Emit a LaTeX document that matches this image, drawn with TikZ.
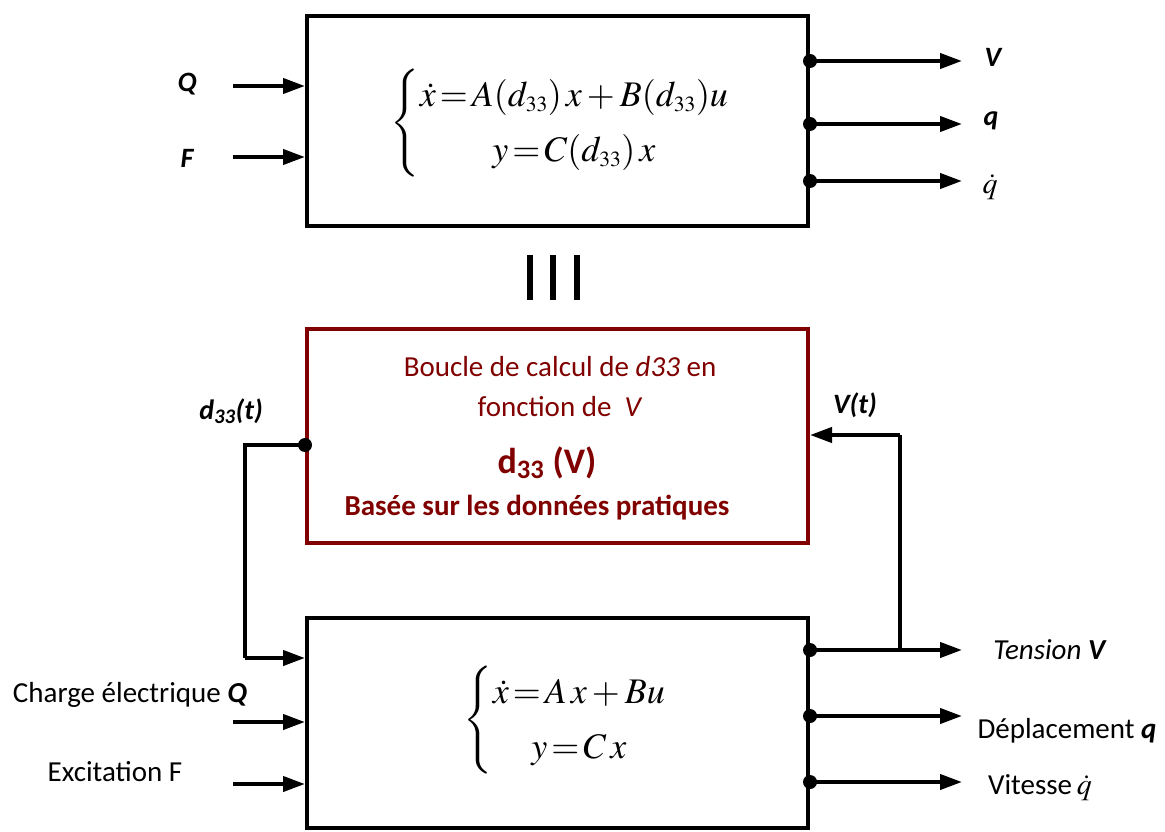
\documentclass[tikz,border=0pt]{standalone}
\usepackage{mathptmx}
\usepackage[no-math]{fontspec}
\setmainfont{Carlito}
\usetikzlibrary{arrows.meta}
\definecolor{boxred}{RGB}{128,0,0}
\tikzset{
  blk/.style={draw=black, line width=4pt, minimum width=501pt, minimum height=210pt, inner sep=0pt},
  redblk/.style={draw=boxred, line width=4pt, minimum width=501pt, minimum height=214pt, inner sep=0pt},
  arr/.style={line width=4pt, -{Triangle[length=22pt,width=15pt]}},
  wire/.style={line width=4pt},
  dot/.style={circle, fill=black, inner sep=0pt, minimum size=14pt},
  lbl/.style={font=\fontsize{28}{32}\selectfont\bfseries\itshape, inner sep=0pt},
  txt/.style={font=\fontsize{29}{34}\selectfont, inner sep=0pt},
  rtxt/.style={font=\fontsize{29}{34}\selectfont, text=boxred, inner sep=0pt},
  eq/.style={font=\fontsize{36}{44}\selectfont, inner sep=0pt},
  bar/.style={line width=6.5pt},
}
\begin{document}
\begin{tikzpicture}[x=1pt,y=-1pt]
\useasboundingbox (0,0) rectangle (1165,832);

% ---------- top block ----------
\node[blk] (top) at (557.5,121) {};
\node[eq] (topeq) at (560,123) {\renewcommand{\arraystretch}{1.25}$\left\{\begin{array}{@{}c@{}}\dot{x}\!=\!A(d_{\scriptscriptstyle 33})\,x+B(d_{\scriptscriptstyle 33})u\\ y\!=\!C(d_{\scriptscriptstyle 33})\,x\end{array}\right.$};

\coordinate (tq) at (233,86);
\coordinate (tf) at (233,157);
\draw[arr] (tq) -- (tq -| top.west);
\draw[arr] (tf) -- (tf -| top.west);
\node[lbl] (lq) at (187,84) {Q};
\node[lbl] (lf) at (187,158) {F};

\node[dot] (tdv) at (810,61) {};
\node[dot] (tdq) at (810,124) {};
\node[dot] (tdqd) at (810,181) {};
\coordinate (tov) at (962,61);
\coordinate (toq) at (962,124);
\coordinate (toqd) at (962,181);
\draw[arr] (tdv.center) -- (tov);
\draw[arr] (tdq.center) -- (toq);
\draw[arr] (tdqd.center) -- (toqd);
\node[lbl] (lv) at (993,57) {V};
\node[lbl] (lqq) at (991,121) {q};
\node[font=\fontsize{30}{34}\selectfont, inner sep=0pt] (lqd) at (990,187) {$\dot{q}$};

% ---------- equivalence ----------
\coordinate (b1t) at (530,255); \coordinate (b1b) at (530,300);
\coordinate (b2t) at (553,255); \coordinate (b2b) at (553,300);
\coordinate (b3t) at (577,255); \coordinate (b3b) at (577,300);
\draw[bar] (b1t) -- (b1b);
\draw[bar] (b2t) -- (b2b);
\draw[bar] (b3t) -- (b3b);

% ---------- red block ----------
\node[redblk] (mid) at (557.5,436) {};
\node[rtxt] (m1) at (560,367) {Boucle de calcul de \textit{d33} en};
\node[rtxt] (m2) at (560,407) {fonction de \ \textit{V}};
\node[rtxt, font=\fontsize{36}{40}\selectfont\bfseries] (m3) at (547,463) {d\textsubscript{33} (V)};
\node[rtxt, font=\fontsize{29}{34}\selectfont\bfseries] (m4) at (537,508) {Basée sur les données pratiques};

% ---------- bottom block ----------
\node[blk] (bot) at (557.5,722.5) {};
\node[eq] (boteq) at (565,720) {\renewcommand{\arraystretch}{1.25}$\left\{\begin{array}{@{}c@{}}\dot{x}\!=\!A\,x+Bu\\ y\!=\!C\,x\end{array}\right.$};

% feedback d33
\node[dot] (dd) at (305,445) {};
\coordinate (dc1) at (245,445);
\coordinate (dc2) at (245,658);
\coordinate (din) at (305,658);
\draw[wire] (dd.center) -- (dc1) -- (dc2);
\draw[arr] (245,658) -- (din -| bot.west);
\node[lbl] (ld) at (231,411) {d\textsubscript{33}(t)};

\coordinate (bq) at (233,722);
\coordinate (bf) at (233,784);
\draw[arr] (bq) -- (bq -| bot.west);
\draw[arr] (bf) -- (bf -| bot.west);
\node[txt] (lbq) at (130,695) {Charge électrique \textbf{\textit{Q}}};
\node[txt] (lbf) at (115,772) {Excitation F};

\node[dot] (bdv) at (810,650) {};
\node[dot] (bdq) at (810,716) {};
\node[dot] (bdqd) at (810,782) {};
\coordinate (bov) at (962,650);
\coordinate (boq) at (962,716);
\coordinate (boqd) at (962,782);
\draw[arr] (bdv.center) -- (bov);
\draw[arr] (bdq.center) -- (boq);
\draw[arr] (bdqd.center) -- (boqd);
\node[txt] (lbv) at (1050,650) {\textit{Tension \textbf{V}}};
\node[txt] (lbqq) at (1067,731) {Déplacement \textbf{\textit{q}}};
\node[txt] (lbqd) at (1040,788) {Vitesse\,{\fontsize{30}{34}\selectfont$\dot{q}$}};

% feedback V
\coordinate (vb) at (900,650);
\coordinate (vt) at (900,435);
\draw[wire] (vb) -- (vt);
\draw[arr] (vt) -- (vt -| mid.east);
\node[lbl] (lvt) at (855,405) {V(t)};
\end{tikzpicture}
\end{document}
